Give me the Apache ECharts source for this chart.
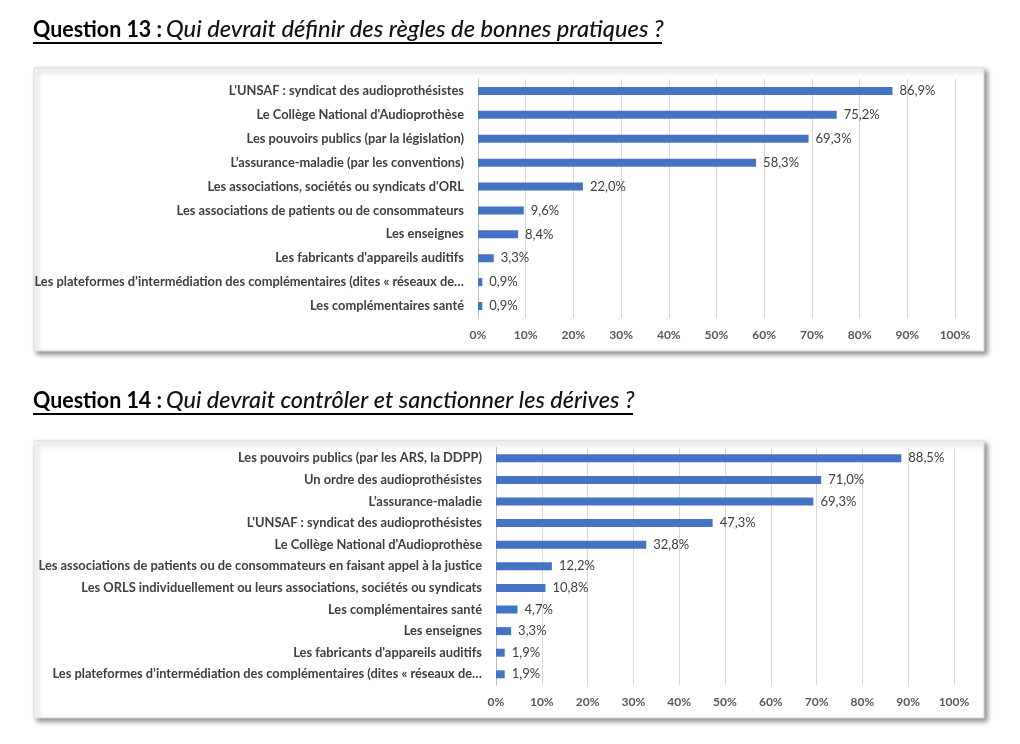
<!DOCTYPE html>
<html>
<head>
<meta charset="utf-8">
<script src="https://cdn.jsdelivr.net/npm/echarts@6/dist/echarts.min.js"></script>
<style>
  html, body { margin: 0; padding: 0; background: #ffffff; }
  #chart { width: 1020px; height: 744px; }
</style>
</head>
<body>
<div id="chart"></div>
<script>
// ---------- data ----------
const q13TitleLead = "Question 13 :";
const q13TitleText = "Qui devrait définir des règles de bonnes pratiques ?";
const q13Categories = [
  "L'UNSAF : syndicat des audioprothésistes",
  "Le Collège National d'Audioprothèse",
  "Les pouvoirs publics (par la législation)",
  "L’assurance-maladie (par les conventions)",
  "Les associations, sociétés ou syndicats d'ORL",
  "Les associations de patients ou de consommateurs",
  "Les enseignes",
  "Les fabricants d'appareils auditifs",
  "Les plateformes d’intermédiation des complémentaires (dites « réseaux de…",
  "Les complémentaires santé"
];
const q13Values = [86.9, 75.2, 69.3, 58.3, 22.0, 9.6, 8.4, 3.3, 0.9, 0.9];

const q14TitleLead = "Question 14 :";
const q14TitleText = "Qui devrait contrôler et sanctionner les dérives ?";
const q14Categories = [
  "Les pouvoirs publics (par les ARS, la DDPP)",
  "Un ordre des audioprothésistes",
  "L’assurance-maladie",
  "L'UNSAF : syndicat des audioprothésistes",
  "Le Collège National d'Audioprothèse",
  "Les associations de patients ou de consommateurs en faisant appel à la justice",
  "Les ORLS individuellement ou leurs associations, sociétés ou syndicats",
  "Les complémentaires santé",
  "Les enseignes",
  "Les fabricants d'appareils auditifs",
  "Les plateformes d’intermédiation des complémentaires (dites « réseaux de…"
];
const q14Values = [88.5, 71.0, 69.3, 47.3, 32.8, 12.2, 10.8, 4.7, 3.3, 1.9, 1.9];

const axisMin = 0, axisMax = 100, axisInterval = 10;

// ---------- helpers ----------
const FONT = "Lato, 'Open Sans', sans-serif";
const ctx = document.createElement('canvas').getContext('2d');
function measure(text, font) { ctx.font = font; return ctx.measureText(text).width; }

const refLabel = q13Categories[8];
const labelSize = Math.min(13, 12 * 430 / measure(refLabel, "bold 12px " + FONT));

// titles: bold lead (narrow, like Calibri) + italic question, underlined
function titleGraphics(lead, text, x, baseY, leadEnd, textStart, textEnd) {
  let fs = 20;
  fs = fs * (textEnd - textStart) / measure(text, "italic " + fs + "px " + FONT);
  const wLead = measure(lead, "bold " + fs + "px " + FONT);
  const sx = (leadEnd - x) / wLead;
  return [
    { type: 'text', x: x, y: baseY, scaleX: sx, style: { text: lead, fontFamily: FONT, fontSize: fs, fontWeight: 'bold', fill: '#000', textVerticalAlign: 'bottom' } },
    { type: 'text', x: textStart, y: baseY, style: { text: text, fontFamily: FONT, fontSize: fs, fontStyle: 'italic', fontWeight: 500, fill: '#111', textVerticalAlign: 'bottom' } },
    { type: 'rect', shape: { x: x, y: baseY + 1, width: textEnd - x, height: 2 }, style: { fill: '#000' } }
  ];
}

function box(x, y, w, h) {
  return { type: 'rect', z: -10, shape: { x: x, y: y, width: w, height: h },
    style: { fill: '#fff', stroke: '#d9d9d9', lineWidth: 1, shadowBlur: 5, shadowOffsetX: 3, shadowOffsetY: 3, shadowColor: 'rgba(0,0,0,0.45)' } };
}

const fmt = p => p.value.toFixed(1).replace('.', ',') + '%';

function xAxisCfg(gi) {
  return {
    gridIndex: gi, type: 'value', min: axisMin, max: axisMax, interval: axisInterval,
    axisLine: { show: false }, axisTick: { show: false },
    splitLine: { show: true, lineStyle: { color: '#d9d9d9', width: 1 } },
    axisLabel: { formatter: '{value}%', color: '#595959', fontFamily: FONT, fontSize: 12, fontWeight: 'bold', margin: 11 }
  };
}
function yAxisCfg(gi, cats) {
  return {
    gridIndex: gi, type: 'category', data: cats, inverse: true,
    axisLine: { show: true, lineStyle: { color: '#bfbfbf', width: 1 } },
    axisTick: { show: false },
    axisLabel: { color: '#404040', fontFamily: FONT, fontSize: labelSize, fontWeight: 'bold', margin: 14, interval: 0 }
  };
}
function barSeries(gi, vals) {
  return {
    type: 'bar', xAxisIndex: gi, yAxisIndex: gi, data: vals, barWidth: 8,
    itemStyle: { color: '#4472C4' },
    label: { show: true, position: 'right', distance: 7, formatter: fmt, color: '#404040', fontFamily: FONT, fontSize: 13 },
    silent: true
  };
}

const chart = echarts.init(document.getElementById('chart'), null, { renderer: 'canvas' });
chart.setOption({
  backgroundColor: '#ffffff',
  animation: false,
  graphic: [
    box(34, 68, 950, 283),
    box(34, 441, 950, 277)
  ].concat(titleGraphics(q13TitleLead, q13TitleText, 33, 41, 162, 166, 662))
   .concat(titleGraphics(q14TitleLead, q14TitleText, 33, 412, 162, 166, 633)),
  grid: [
    { left: 478, right: 1020 - 955, top: 79, height: 239 },
    { left: 496, right: 1020 - 954, top: 447.5, height: 237.6 }
  ],
  xAxis: [xAxisCfg(0), xAxisCfg(1)],
  yAxis: [yAxisCfg(0, q13Categories), yAxisCfg(1, q14Categories)],
  series: [barSeries(0, q13Values), barSeries(1, q14Values)]
});
</script>
</body>
</html>
